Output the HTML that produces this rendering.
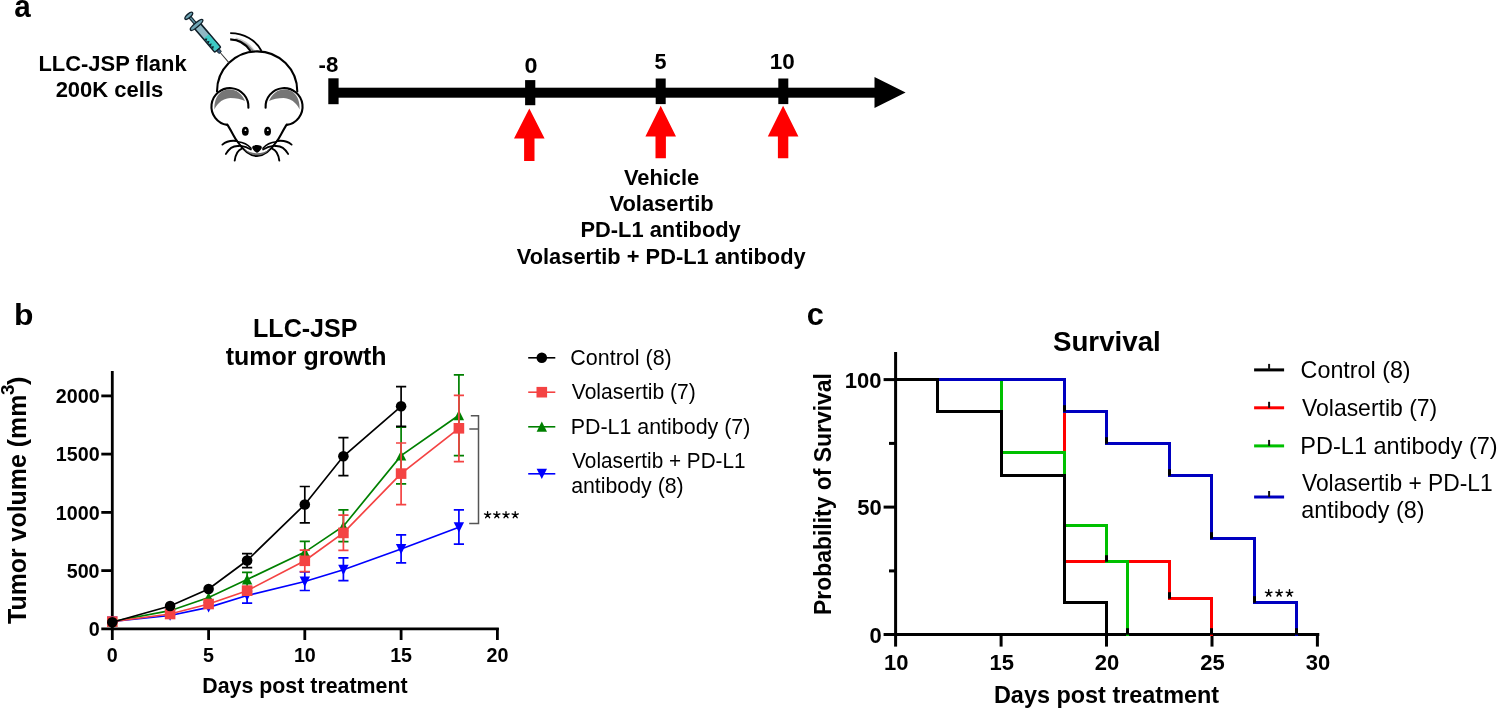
<!DOCTYPE html>
<html><head><meta charset="utf-8"><style>
html,body{margin:0;padding:0;background:#fff;width:1497px;height:709px;overflow:hidden}
svg{display:block;will-change:transform}
</style></head><body>
<svg width="1497" height="709" viewBox="0 0 1497 709" font-family="Liberation Sans">
<rect width="1497" height="709" fill="#fff"/>
<text x="14.31" y="17.3" font-size="31" font-weight="bold" fill="#000" textLength="16.48" lengthAdjust="spacingAndGlyphs">a</text>
<text x="38.47" y="70.9" font-size="22" font-weight="bold" fill="#000" textLength="148.15" lengthAdjust="spacingAndGlyphs">LLC-JSP flank</text>
<text x="55.64" y="97" font-size="22" font-weight="bold" fill="#000" textLength="107.60" lengthAdjust="spacingAndGlyphs">200K cells</text>
<rect x="333" y="87.7" width="545" height="10" fill="#000"/>
<polygon points="874.5,77 905.6,92.6 874.5,108.1" fill="#000"/>
<rect x="328.3" y="78.3" width="10.3" height="25.9" fill="#000"/>
<rect x="525.1" y="80.1" width="10.2" height="25.1" fill="#000"/>
<rect x="655.7" y="78.5" width="10.0" height="25.6" fill="#000"/>
<rect x="778.3" y="78.5" width="10.0" height="25.6" fill="#000"/>
<text x="318.51" y="71.8" font-size="22.5" font-weight="bold" fill="#000" textLength="19.74" lengthAdjust="spacingAndGlyphs">-8</text>
<text x="524.46" y="73.2" font-size="22" font-weight="bold" fill="#000" textLength="13.02" lengthAdjust="spacingAndGlyphs">0</text>
<text x="654.55" y="69.3" font-size="22" font-weight="bold" fill="#000" textLength="12.01" lengthAdjust="spacingAndGlyphs">5</text>
<text x="769.75" y="69.3" font-size="22" font-weight="bold" fill="#000" textLength="25.00" lengthAdjust="spacingAndGlyphs">10</text>
<polygon points="529.3,108.4 544.5999999999999,138.4 534.5,138.4 534.5,160.9 524.0999999999999,160.9 524.0999999999999,138.4 514.0,138.4" fill="#ff0000"/>
<polygon points="660.7,105.7 676.0,136.6 665.9000000000001,136.6 665.9000000000001,158.2 655.5,158.2 655.5,136.6 645.4000000000001,136.6" fill="#ff0000"/>
<polygon points="783.1,105.7 798.4,136.6 788.3000000000001,136.6 788.3000000000001,158.2 777.9,158.2 777.9,136.6 767.8000000000001,136.6" fill="#ff0000"/>
<text x="623.88" y="184.5" font-size="22" font-weight="bold" fill="#000" textLength="75.32" lengthAdjust="spacingAndGlyphs">Vehicle</text>
<text x="609.48" y="210.9" font-size="22" font-weight="bold" fill="#000" textLength="104.21" lengthAdjust="spacingAndGlyphs">Volasertib</text>
<text x="580.47" y="237.1" font-size="22" font-weight="bold" fill="#000" textLength="160.31" lengthAdjust="spacingAndGlyphs">PD-L1 antibody</text>
<text x="516.78" y="263.6" font-size="22" font-weight="bold" fill="#000" textLength="288.90" lengthAdjust="spacingAndGlyphs">Volasertib + PD-L1 antibody</text>

<g stroke="#000" stroke-width="2.1" fill="none" stroke-linecap="round" stroke-linejoin="round">
 <!-- tail -->
 <path d="M235,39.5 C243,41.5 249,45.5 253,50.8" stroke="#8a8a8a" stroke-width="2.2" stroke-linecap="butt"/>
 <path d="M236,38.2 C243,39.8 249,43.5 254.5,50.5" stroke="#c8c8c8" stroke-width="1.2" stroke-linecap="butt"/>
 <path d="M230.2,33.1 C244,33.2 256,40 261.5,51" stroke-width="1.8" stroke-linecap="butt"/>
 <path d="M230.2,39.3 C239,39.5 246,44 250.5,51" stroke-width="2.2" stroke-linecap="butt"/>
 <!-- body circle -->
 <path d="M217,91.5 A40,40 0 0,1 297.3,91.5" fill="#fff"/>
 <!-- ears -->
 <path d="M227.2,124.9 A18.5,18.5 0 1,1 248.4,107.8" fill="#fff"/>
 <path d="M286.8,124.9 A18.5,18.5 0 1,0 265.6,107.8" fill="#fff"/>
 <!-- face -->
 <path d="M227.3,124.6 C231,130 234,137 237,141 C243,150 250,156 257,156 C264,156 271,150 277,141 C280,137 283,130 286.7,124.6" fill="#fff"/>
</g>
<!-- inner ears gray -->
<path d="M214.5,109.5 C214,103 216,96 221,92 C224.5,89.8 227,89.6 229.7,89.6 C233,89.6 236,90.5 238.6,92.5 C241.5,94.8 243.5,97.5 245,101 C241,99 236,98 230.4,98 C226,98.2 222,99.8 218.5,103.5 C216.5,105.5 215.2,107.5 214.5,109.5 Z" fill="#767676"/>
<path d=" M299.5,109.5 C300.0,103 298.0,96 293.0,92 C289.5,89.8 287.0,89.6 284.3,89.6 C281.0,89.6 278.0,90.5 275.4,92.5 C272.5,94.8 270.5,97.5 269.0,101 C273.0,99 278.0,98 283.6,98 C288.0,98.2 292.0,99.8 295.5,103.5 C297.5,105.5 298.8,107.5 299.5,109.5 Z " fill="#767676"/>
<!-- eyes -->
<ellipse cx="245.3" cy="131.3" rx="3.4" ry="4.5" fill="#000"/>
<ellipse cx="267.6" cy="131.3" rx="3.4" ry="4.5" fill="#000"/>
<circle cx="245.5" cy="130.2" r="0.9" fill="#fff"/>
<circle cx="267.8" cy="130.2" r="0.9" fill="#fff"/>
<!-- mouth gray -->
<path d="M244,149 C248,153.5 252,155.3 257,155.3 C262,155.3 266,153.5 270,149 C266,152 261.5,153.2 257,153.2 C252.5,153.2 248,152 244,149 Z" fill="#6e6e6e"/>
<!-- nose -->
<path d="M253.4,145.7 C255.5,144.9 258.5,144.9 260.6,145.7 C262.2,146.4 262.1,148.1 260.9,149.5 C259.5,151.2 258.3,152.7 257,152.7 C255.7,152.7 254.5,151.2 253.1,149.5 C251.9,148.1 251.8,146.4 253.4,145.7 Z" fill="#000"/>
<g stroke="#000" stroke-width="1.9" fill="none" stroke-linecap="round">
 <path d="M236.5,141 C231,140.3 226,141.5 222.4,144.6"/>
 <path d="M239,146 C234,145.5 229,148.5 225.9,153.9"/>
 <path d="M241.8,148.6 C238,150 235.5,155 234.7,160.6"/>
 <path d="M277.5,141 C283,140.3 288,141.5 291.6,144.6"/>
 <path d="M275,146 C280,145.5 285,148.5 288.1,153.9"/>
 <path d="M272.2,148.6 C276,150 278.5,155 279.3,160.6"/>
 <path d="M237.8,141.8 C242.5,142.2 247.5,144.2 251,148.3" stroke-width="1.6"/>
 <path d="M239.8,145.6 C244,146.3 248,147.6 251,149.6" stroke-width="1.6"/>
 <path d="M276.2,141.8 C271.5,142.2 266.5,144.2 263,148.3" stroke-width="1.6"/>
 <path d="M274.2,145.6 C270,146.3 266,147.6 263,149.6" stroke-width="1.6"/>
</g>
<!-- syringe -->
<g transform="translate(188.8,15.8) rotate(49.5)">
 <line x1="47" y1="0" x2="62" y2="0" stroke="#333" stroke-width="1"/>
 <rect x="43.5" y="-1.7" width="5" height="3.4" rx="1" fill="#35557a" stroke="#122" stroke-width="0.8"/>
 <rect x="12.5" y="-3.9" width="32" height="7.8" rx="0.8" fill="#8fb8c4" stroke="#10202a" stroke-width="1.6"/>
 <rect x="27" y="-3.1" width="16.7" height="6.2" fill="#3dcac5"/>
 <path d="M27.5,3.2 l1.7,-2.6 l1.7,2.6 l1.7,-2.6 l1.7,2.6 l1.7,-2.6 l1.7,2.6 l1.7,-2.6 l1.7,2.6 Z" fill="#10202a"/>
 <line x1="1" y1="0" x2="12" y2="0" stroke="#10202a" stroke-width="3.6"/>
 <line x1="1" y1="0" x2="12" y2="0" stroke="#5f95a5" stroke-width="1.4"/>
 <ellipse cx="0" cy="0" rx="1.9" ry="4.9" fill="#6fa5b5" stroke="#10202a" stroke-width="1.4"/>
 <ellipse cx="12" cy="0" rx="2.1" ry="8" fill="#6fa5b5" stroke="#10202a" stroke-width="1.4"/>
</g>

<text x="14.07" y="325.3" font-size="30" font-weight="bold" fill="#000" textLength="19.43" lengthAdjust="spacingAndGlyphs">b</text>
<text x="253.04" y="336.7" font-size="25" font-weight="bold" fill="#000" textLength="104.48" lengthAdjust="spacingAndGlyphs">LLC-JSP</text>
<text x="225.75" y="364.8" font-size="25" font-weight="bold" fill="#000" textLength="160.83" lengthAdjust="spacingAndGlyphs">tumor growth</text>
<g stroke="#000" stroke-width="2.8" fill="none">
<line x1="112.3" y1="371" x2="112.3" y2="630.2"/>
<line x1="101.3" y1="628.9" x2="498.8" y2="628.9"/>
<line x1="101.3" y1="570.6" x2="112" y2="570.6"/>
<line x1="101.3" y1="512.4" x2="112" y2="512.4"/>
<line x1="101.3" y1="454.1" x2="112" y2="454.1"/>
<line x1="101.3" y1="395.9" x2="112" y2="395.9"/>
<line x1="112.3" y1="628" x2="112.3" y2="640"/>
<line x1="208.6" y1="628" x2="208.6" y2="640"/>
<line x1="304.8" y1="628" x2="304.8" y2="640"/>
<line x1="401.1" y1="628" x2="401.1" y2="640"/>
<line x1="497.4" y1="628" x2="497.4" y2="640"/>
</g>
<text x="88.75" y="636.0" font-size="19.7" font-weight="bold" fill="#000" textLength="10.96" lengthAdjust="spacingAndGlyphs">0</text>
<text x="66.69" y="577.8" font-size="19.7" font-weight="bold" fill="#000" textLength="32.87" lengthAdjust="spacingAndGlyphs">500</text>
<text x="55.85" y="519.5" font-size="19.7" font-weight="bold" fill="#000" textLength="43.83" lengthAdjust="spacingAndGlyphs">1000</text>
<text x="55.85" y="461.2" font-size="19.7" font-weight="bold" fill="#000" textLength="43.83" lengthAdjust="spacingAndGlyphs">1500</text>
<text x="55.85" y="403.0" font-size="19.7" font-weight="bold" fill="#000" textLength="43.83" lengthAdjust="spacingAndGlyphs">2000</text>
<text x="112.30" y="661.9" font-size="19.7" font-weight="bold" text-anchor="middle">0</text>
<text x="208.57" y="661.9" font-size="19.7" font-weight="bold" text-anchor="middle">5</text>
<text x="304.85" y="661.9" font-size="19.7" font-weight="bold" text-anchor="middle">10</text>
<text x="401.12" y="661.9" font-size="19.7" font-weight="bold" text-anchor="middle">15</text>
<text x="497.40" y="661.9" font-size="19.7" font-weight="bold" text-anchor="middle">20</text>
<text x="202.31" y="693.2" font-size="21.3" font-weight="bold" fill="#000" textLength="205.29" lengthAdjust="spacingAndGlyphs">Days post treatment</text>
<text transform="translate(26,623.95) rotate(-90)" x="0" y="0" font-size="25.5" font-weight="bold" textLength="229.26" lengthAdjust="spacingAndGlyphs">Tumor volume (mm</text>
<text transform="translate(14,394.9) rotate(-90)" x="0" y="0" font-size="18.8" font-weight="bold">3</text>
<text transform="translate(25.7,385.1) rotate(-90)" x="0" y="0" font-size="25.5" font-weight="bold">)</text>
<g stroke="#0000ff" stroke-width="1.7" fill="none">
<polyline points="112.3,621.5 170.1,615.5 208.6,607.4 247.1,595.5 304.8,581.5 343.4,569.7 401.1,549 458.9,527.2"/>
<path d="M247.1,591.5 V603.2 M242.0,591.5 H252.2 M242.0,603.2 H252.2"/>
<path d="M304.8,571.9 V590.5 M299.7,571.9 H309.9 M299.7,590.5 H309.9"/>
<path d="M343.4,557.8 V580.7 M338.3,557.8 H348.5 M338.3,580.7 H348.5"/>
<path d="M401.1,534.9 V562.8 M396.0,534.9 H406.2 M396.0,562.8 H406.2"/>
<path d="M458.9,509.9 V544.1 M453.8,509.9 H464.0 M453.8,544.1 H464.0"/>
</g>
<polygon points="107.1,616.5 117.5,616.5 112.3,626.7" fill="#0000ff"/>
<polygon points="164.9,610.5 175.3,610.5 170.1,620.7" fill="#0000ff"/>
<polygon points="203.4,602.4 213.8,602.4 208.6,612.6" fill="#0000ff"/>
<polygon points="241.9,590.5 252.3,590.5 247.1,600.7" fill="#0000ff"/>
<polygon points="299.6,576.5 310.0,576.5 304.8,586.7" fill="#0000ff"/>
<polygon points="338.2,564.7 348.6,564.7 343.4,574.9" fill="#0000ff"/>
<polygon points="395.9,544.0 406.3,544.0 401.1,554.2" fill="#0000ff"/>
<polygon points="453.7,522.2 464.1,522.2 458.9,532.4" fill="#0000ff"/>
<g stroke="#008000" stroke-width="1.7" fill="none">
<polyline points="112.3,621.5 170.1,610.7 208.6,597.5 247.1,579.5 304.8,552.1 343.4,526.2 401.1,455.6 458.9,415.3"/>
<path d="M247.1,572.4 V587 M242.0,572.4 H252.2 M242.0,587 H252.2"/>
<path d="M304.8,541.3 V563 M299.7,541.3 H309.9 M299.7,563 H309.9"/>
<path d="M343.4,509.9 V541.6 M338.3,509.9 H348.5 M338.3,541.6 H348.5"/>
<path d="M401.1,427.1 V483.8 M396.0,427.1 H406.2 M396.0,483.8 H406.2"/>
<path d="M458.9,374.9 V455.7 M453.8,374.9 H464.0 M453.8,455.7 H464.0"/>
</g>
<polygon points="112.3,616.3 117.5,626.5 107.1,626.5" fill="#008000"/>
<polygon points="170.1,605.5 175.3,615.7 164.9,615.7" fill="#008000"/>
<polygon points="208.6,592.3 213.8,602.5 203.4,602.5" fill="#008000"/>
<polygon points="247.1,574.3 252.3,584.5 241.9,584.5" fill="#008000"/>
<polygon points="304.8,546.9 310.0,557.1 299.6,557.1" fill="#008000"/>
<polygon points="343.4,521.0 348.6,531.2 338.2,531.2" fill="#008000"/>
<polygon points="401.1,450.4 406.3,460.6 395.9,460.6" fill="#008000"/>
<polygon points="458.9,410.1 464.1,420.3 453.7,420.3" fill="#008000"/>
<g stroke="#f44343" stroke-width="1.7" fill="none">
<polyline points="112.3,621.6 170.1,614.0 208.6,604.0 247.1,590.7 304.8,560.8 343.4,532.9 401.1,473.6 458.9,428.3"/>
<path d="M247.1,586.5 V595 M242.0,586.5 H252.2 M242.0,595 H252.2"/>
<path d="M304.8,550.2 V571.6 M299.7,550.2 H309.9 M299.7,571.6 H309.9"/>
<path d="M343.4,515.2 V550.4 M338.3,515.2 H348.5 M338.3,550.4 H348.5"/>
<path d="M401.1,443 V504.6 M396.0,443 H406.2 M396.0,504.6 H406.2"/>
<path d="M458.9,395.4 V461.7 M453.8,395.4 H464.0 M453.8,461.7 H464.0"/>
</g>
<rect x="107.0" y="616.3" width="10.6" height="10.6" fill="#f44343"/>
<rect x="164.8" y="608.7" width="10.6" height="10.6" fill="#f44343"/>
<rect x="203.3" y="598.7" width="10.6" height="10.6" fill="#f44343"/>
<rect x="241.8" y="585.4" width="10.6" height="10.6" fill="#f44343"/>
<rect x="299.5" y="555.5" width="10.6" height="10.6" fill="#f44343"/>
<rect x="338.1" y="527.6" width="10.6" height="10.6" fill="#f44343"/>
<rect x="395.8" y="468.3" width="10.6" height="10.6" fill="#f44343"/>
<rect x="453.6" y="423.0" width="10.6" height="10.6" fill="#f44343"/>
<g stroke="#000" stroke-width="1.7" fill="none">
<polyline points="112.3,622.2 170.1,606 208.6,589 247.1,560.5 304.8,504.5 343.4,456.3 401.1,406.3"/>
<path d="M247.1,553.6 V567.7 M242.0,553.6 H252.2 M242.0,567.7 H252.2"/>
<path d="M304.8,486.5 V522.8 M299.7,486.5 H309.9 M299.7,522.8 H309.9"/>
<path d="M343.4,437.7 V475.7 M338.3,437.7 H348.5 M338.3,475.7 H348.5"/>
<path d="M401.1,386.6 V426.4 M396.0,386.6 H406.2 M396.0,426.4 H406.2"/>
</g>
<circle cx="112.3" cy="622.2" r="5.30" fill="#000"/>
<circle cx="170.1" cy="606.0" r="5.30" fill="#000"/>
<circle cx="208.6" cy="589.0" r="5.30" fill="#000"/>
<circle cx="247.1" cy="560.5" r="5.30" fill="#000"/>
<circle cx="304.8" cy="504.5" r="5.30" fill="#000"/>
<circle cx="343.4" cy="456.3" r="5.30" fill="#000"/>
<circle cx="401.1" cy="406.3" r="5.30" fill="#000"/>
<path d="M470.8,415.8 H478.5 V523.5 H469.2 M469.3,429 H478.5" stroke="#555" stroke-width="1.5" fill="none"/>
<path d="M487.60,515.00 L487.60,511.70 M487.60,515.00 L490.74,513.98 M487.60,515.00 L489.54,517.67 M487.60,515.00 L485.66,517.67 M487.60,515.00 L484.46,513.98 " stroke="#000" stroke-width="1.35" stroke-linecap="round" fill="none"/>
<path d="M496.80,515.00 L496.80,511.70 M496.80,515.00 L499.94,513.98 M496.80,515.00 L498.74,517.67 M496.80,515.00 L494.86,517.67 M496.80,515.00 L493.66,513.98 " stroke="#000" stroke-width="1.35" stroke-linecap="round" fill="none"/>
<path d="M506.00,515.00 L506.00,511.70 M506.00,515.00 L509.14,513.98 M506.00,515.00 L507.94,517.67 M506.00,515.00 L504.06,517.67 M506.00,515.00 L502.86,513.98 " stroke="#000" stroke-width="1.35" stroke-linecap="round" fill="none"/>
<path d="M515.20,515.00 L515.20,511.70 M515.20,515.00 L518.34,513.98 M515.20,515.00 L517.14,517.67 M515.20,515.00 L513.26,517.67 M515.20,515.00 L512.06,513.98 " stroke="#000" stroke-width="1.35" stroke-linecap="round" fill="none"/>
<line x1="528.2" y1="357.8" x2="555.3" y2="357.8" stroke="#000" stroke-width="1.6"/>
<circle cx="541.8" cy="357.8" r="5.30" fill="#000"/>
<text x="570.33" y="365" font-size="21.3" fill="#000" textLength="101.44" lengthAdjust="spacingAndGlyphs">Control (8)</text>
<line x1="528.2" y1="392.2" x2="555.3" y2="392.2" stroke="#f44343" stroke-width="1.6"/>
<rect x="536.5" y="386.9" width="10.6" height="10.6" fill="#f44343"/>
<text x="571.79" y="399" font-size="21.3" fill="#000" textLength="124.01" lengthAdjust="spacingAndGlyphs">Volasertib (7)</text>
<line x1="528.2" y1="426.8" x2="555.3" y2="426.8" stroke="#008000" stroke-width="1.6"/>
<polygon points="541.8,421.6 547.0,431.8 536.6,431.8" fill="#008000"/>
<text x="570.69" y="433.9" font-size="21.3" fill="#000" textLength="179.66" lengthAdjust="spacingAndGlyphs">PD-L1 antibody (7)</text>
<line x1="528.2" y1="473.8" x2="555.3" y2="473.8" stroke="#0000ff" stroke-width="1.6"/>
<polygon points="536.6,468.8 547.0,468.8 541.8,479.0" fill="#0000ff"/>
<text x="572.19" y="468.4" font-size="21.3" fill="#000" textLength="173.36" lengthAdjust="spacingAndGlyphs">Volasertib + PD-L1</text>
<text x="571.15" y="493.1" font-size="21.3" fill="#000" textLength="112.55" lengthAdjust="spacingAndGlyphs">antibody (8)</text>
<text x="806.77" y="325.3" font-size="31" font-weight="bold" fill="#000" textLength="17.14" lengthAdjust="spacingAndGlyphs">c</text>
<text x="1052.97" y="351" font-size="27.5" font-weight="bold" fill="#000" textLength="107.81" lengthAdjust="spacingAndGlyphs">Survival</text>
<g stroke="#000" stroke-width="3" fill="none">
<line x1="895.6" y1="352" x2="895.6" y2="636"/>
<line x1="883.6" y1="634.6" x2="1319.3" y2="634.6"/>
<line x1="883.6" y1="507.1" x2="895" y2="507.1"/>
<line x1="883.6" y1="379.6" x2="895" y2="379.6"/>
<line x1="889" y1="570.9" x2="895" y2="570.9"/>
<line x1="889" y1="443.4" x2="895" y2="443.4"/>
<line x1="895.6" y1="634" x2="895.6" y2="646.6"/>
<line x1="1001.1" y1="634" x2="1001.1" y2="646.6"/>
<line x1="1106.5" y1="634" x2="1106.5" y2="646.6"/>
<line x1="1212.0" y1="634" x2="1212.0" y2="646.6"/>
<line x1="1317.4" y1="634" x2="1317.4" y2="646.6"/>
</g>
<text x="869.48" y="642.5" font-size="22" font-weight="bold" fill="#000" textLength="12.24" lengthAdjust="spacingAndGlyphs">0</text>
<text x="857.16" y="515.0" font-size="22" font-weight="bold" fill="#000" textLength="24.47" lengthAdjust="spacingAndGlyphs">50</text>
<text x="844.84" y="387.5" font-size="22" font-weight="bold" fill="#000" textLength="36.71" lengthAdjust="spacingAndGlyphs">100</text>
<text x="896.20" y="670.3" font-size="22" font-weight="bold" text-anchor="middle">10</text>
<text x="1001.65" y="670.3" font-size="22" font-weight="bold" text-anchor="middle">15</text>
<text x="1107.10" y="670.3" font-size="22" font-weight="bold" text-anchor="middle">20</text>
<text x="1212.55" y="670.3" font-size="22" font-weight="bold" text-anchor="middle">25</text>
<text x="1318.00" y="670.3" font-size="22" font-weight="bold" text-anchor="middle">30</text>
<text x="993.96" y="703.3" font-size="23" font-weight="bold" fill="#000" textLength="225.17" lengthAdjust="spacingAndGlyphs">Days post treatment</text>
<text transform="translate(831,615.00) rotate(-90)" x="0" y="0" font-size="23.8" font-weight="bold" textLength="241.86" lengthAdjust="spacingAndGlyphs">Probability of Survival</text>
<path d="M895.5,379.5 H1064.5 V561.5 H1169.5 V598.5 H1211.5 V634.5" stroke="#ff0000" stroke-width="3" fill="none" stroke-linejoin="miter" stroke-linecap="square"/>
<path d="M895.5,379.5 H1001.5 V452.5 H1064.5 V525.5 H1106.5 V561.5 H1127.5 V634.5" stroke="#00c000" stroke-width="3" fill="none" stroke-linejoin="miter" stroke-linecap="square"/>
<path d="M895.5,379.5 H1064.5 V411.5 H1106.5 V443.5 H1169.5 V475.5 H1211.5 V538.5 H1254.5 V602.5 H1296.5 V634.5" stroke="#0000c0" stroke-width="3" fill="none" stroke-linejoin="miter" stroke-linecap="square"/>
<path d="M895.5,379.5 H937.5 V411.5 H1001.5 V475.5 H1064.5 V602.5 H1106.5 V634.5" stroke="#000" stroke-width="3" fill="none" stroke-linejoin="miter" stroke-linecap="square"/>
<line x1="1064.5" y1="555.2" x2="1064.5" y2="561.7" stroke="#000" stroke-width="3"/>
<line x1="1169.5" y1="592.2" x2="1169.5" y2="598.7" stroke="#000" stroke-width="3"/>
<line x1="1211.5" y1="628.2" x2="1211.5" y2="634.7" stroke="#000" stroke-width="3"/>
<line x1="1001.5" y1="446.2" x2="1001.5" y2="452.7" stroke="#000" stroke-width="3"/>
<line x1="1064.5" y1="519.2" x2="1064.5" y2="525.7" stroke="#000" stroke-width="3"/>
<line x1="1106.5" y1="555.2" x2="1106.5" y2="561.7" stroke="#000" stroke-width="3"/>
<line x1="1127.5" y1="628.2" x2="1127.5" y2="634.7" stroke="#000" stroke-width="3"/>
<line x1="1064.5" y1="405.2" x2="1064.5" y2="411.7" stroke="#000" stroke-width="3"/>
<line x1="1106.5" y1="437.2" x2="1106.5" y2="443.7" stroke="#000" stroke-width="3"/>
<line x1="1169.5" y1="469.2" x2="1169.5" y2="475.7" stroke="#000" stroke-width="3"/>
<line x1="1211.5" y1="532.2" x2="1211.5" y2="538.7" stroke="#000" stroke-width="3"/>
<line x1="1254.5" y1="596.2" x2="1254.5" y2="602.7" stroke="#000" stroke-width="3"/>
<line x1="1296.5" y1="628.2" x2="1296.5" y2="634.7" stroke="#000" stroke-width="3"/>
<line x1="937.5" y1="405.2" x2="937.5" y2="411.7" stroke="#000" stroke-width="3"/>
<line x1="1001.5" y1="469.2" x2="1001.5" y2="475.7" stroke="#000" stroke-width="3"/>
<line x1="1064.5" y1="596.2" x2="1064.5" y2="602.7" stroke="#000" stroke-width="3"/>
<line x1="1106.5" y1="628.2" x2="1106.5" y2="634.7" stroke="#000" stroke-width="3"/>
<path d="M1268.70,593.20 L1268.70,589.75 M1268.70,593.20 L1271.98,592.13 M1268.70,593.20 L1270.73,595.99 M1268.70,593.20 L1266.67,595.99 M1268.70,593.20 L1265.42,592.13 " stroke="#000" stroke-width="1.45" stroke-linecap="round" fill="none"/>
<path d="M1279.10,593.20 L1279.10,589.75 M1279.10,593.20 L1282.38,592.13 M1279.10,593.20 L1281.13,595.99 M1279.10,593.20 L1277.07,595.99 M1279.10,593.20 L1275.82,592.13 " stroke="#000" stroke-width="1.45" stroke-linecap="round" fill="none"/>
<path d="M1289.50,593.20 L1289.50,589.75 M1289.50,593.20 L1292.78,592.13 M1289.50,593.20 L1291.53,595.99 M1289.50,593.20 L1287.47,595.99 M1289.50,593.20 L1286.22,592.13 " stroke="#000" stroke-width="1.45" stroke-linecap="round" fill="none"/>
<line x1="1254.1" y1="369.9" x2="1284.1" y2="369.9" stroke="#000" stroke-width="3"/>
<line x1="1269.1" y1="363.9" x2="1269.1" y2="369.9" stroke="#111" stroke-width="2"/>
<text x="1300.64" y="377.8" font-size="23.2" fill="#000" textLength="109.95" lengthAdjust="spacingAndGlyphs">Control (8)</text>
<line x1="1254.1" y1="407.8" x2="1284.1" y2="407.8" stroke="#ff0000" stroke-width="3"/>
<line x1="1269.1" y1="401.8" x2="1269.1" y2="407.8" stroke="#111" stroke-width="2"/>
<text x="1301.97" y="415.5" font-size="23.2" fill="#000" textLength="135.25" lengthAdjust="spacingAndGlyphs">Volasertib (7)</text>
<line x1="1254.1" y1="445.9" x2="1284.1" y2="445.9" stroke="#00c000" stroke-width="3"/>
<line x1="1269.1" y1="439.9" x2="1269.1" y2="445.9" stroke="#111" stroke-width="2"/>
<text x="1300.32" y="453.6" font-size="23.2" fill="#000" textLength="197.37" lengthAdjust="spacingAndGlyphs">PD-L1 antibody (7)</text>
<line x1="1254.1" y1="497" x2="1284.1" y2="497" stroke="#0000c0" stroke-width="3"/>
<line x1="1269.1" y1="491" x2="1269.1" y2="497" stroke="#111" stroke-width="2"/>
<text x="1301.97" y="491" font-size="23.2" fill="#000" textLength="190.67" lengthAdjust="spacingAndGlyphs">Volasertib + PD-L1</text>
<text x="1301.27" y="517.6" font-size="23.2" fill="#000" textLength="123.25" lengthAdjust="spacingAndGlyphs">antibody (8)</text>
</svg>
</body></html>
